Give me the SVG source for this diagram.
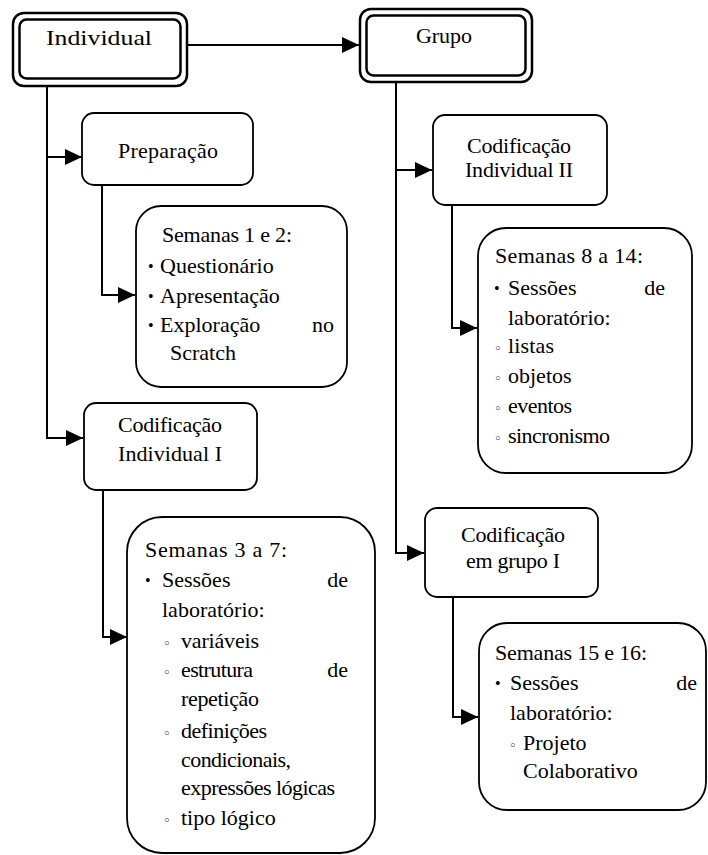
<svg xmlns="http://www.w3.org/2000/svg" width="708" height="855" viewBox="0 0 708 855">
<style>
.t{font-family:"Liberation Serif","Times New Roman",serif;font-size:22px;fill:#000}
.m{text-anchor:middle}
.e{text-anchor:end}
.b{font-family:"Liberation Serif","DejaVu Serif",serif;font-size:16px;fill:#000}
.c{font-family:"DejaVu Sans",sans-serif;font-size:13px;fill:#000}
.box{fill:#fff;stroke:#000;stroke-width:1.8}
.dbl{fill:#fff;stroke:#000;stroke-width:2.5}
.conn{fill:none;stroke:#000;stroke-width:2}
</style>
<defs>
<marker id="ah" markerUnits="userSpaceOnUse" markerWidth="18" markerHeight="18" refX="17" refY="8" orient="auto">
<path d="M0,0 L17,8 L0,16 z" fill="#000"/>
</marker>
</defs>
<rect width="708" height="855" fill="#fff"/>
<g id="connectors">
<path class="conn" d="M187,45 H359" marker-end="url(#ah)"/>
<path class="conn" d="M47,86 V438 H83" marker-end="url(#ah)"/>
<path class="conn" d="M47,157 H82" marker-end="url(#ah)"/>
<path class="conn" d="M102,185 V295 H135" marker-end="url(#ah)"/>
<path class="conn" d="M103,490 V637 H127" marker-end="url(#ah)"/>
<path class="conn" d="M396,82 V553 H424" marker-end="url(#ah)"/>
<path class="conn" d="M396,170 H432" marker-end="url(#ah)"/>
<path class="conn" d="M452,205 V328 H477" marker-end="url(#ah)"/>
<path class="conn" d="M453,597 V717 H478" marker-end="url(#ah)"/>
</g>
<g id="individual">
<rect class="dbl" x="13" y="13" width="174" height="73" rx="11"/>
<rect class="dbl" x="19.5" y="19.5" width="161" height="59" rx="7"/>
<text class="t m" x="99" y="45" textLength="106" lengthAdjust="spacingAndGlyphs">Individual</text>
</g>
<g id="grupo">
<rect class="dbl" x="360" y="9" width="172" height="73" rx="11"/>
<rect class="dbl" x="366.5" y="15.5" width="159" height="60" rx="7"/>
<text class="t m" x="444" y="43">Grupo</text>
</g>
<g id="preparacao">
<rect class="box" x="82" y="113" width="171" height="72" rx="12"/>
<text class="t m" x="168" y="158" textLength="100">Preparação</text>
</g>
<g id="semanas12">
<rect class="box" x="136" y="206" width="211" height="181" rx="25"/>
<text class="t" x="162" y="242" textLength="130">Semanas 1 e 2:</text>
<text class="b" x="148" y="272">•</text>
<text class="t" x="160" y="273">Questionário</text>
<text class="b" x="148" y="302">•</text>
<text class="t" x="160" y="303">Apresentação</text>
<text class="b" x="148" y="331">•</text>
<text class="t" x="160" y="332">Exploração</text>
<text class="t e" x="334" y="332">no</text>
<text class="t" x="170" y="360">Scratch</text>
</g>
<g id="codificacao-individual-1">
<rect class="box" x="84" y="403" width="173" height="87" rx="12"/>
<text class="t m" x="170" y="432" textLength="104">Codificação</text>
<text class="t m" x="170" y="461" textLength="104">Individual I</text>
</g>
<g id="semanas37">
<rect class="box" x="127" y="517" width="248" height="336" rx="35"/>
<text class="t" x="145" y="557" textLength="142">Semanas 3 a 7:</text>
<text class="b" x="145" y="586">•</text>
<text class="t" x="162" y="587">Sessões</text>
<text class="t e" x="348" y="587">de</text>
<text class="t" x="162" y="617">laboratório:</text>
<text class="c" x="163" y="648">◦</text>
<text class="t" x="181" y="648" textLength="78">variáveis</text>
<text class="c" x="163" y="677">◦</text>
<text class="t" x="181" y="677" textLength="72">estrutura</text>
<text class="t e" x="348" y="677">de</text>
<text class="t" x="181" y="706" textLength="78">repetição</text>
<text class="c" x="163" y="738">◦</text>
<text class="t" x="181" y="738" textLength="86">definições</text>
<text class="t" x="181" y="767" textLength="110">condicionais,</text>
<text class="t" x="181" y="795" textLength="154">expressões lógicas</text>
<text class="c" x="163" y="825">◦</text>
<text class="t" x="181" y="825">tipo lógico</text>
</g>
<g id="codificacao-individual-2">
<rect class="box" x="433" y="115" width="174" height="90" rx="12"/>
<text class="t m" x="519" y="153" textLength="104">Codificação</text>
<text class="t m" x="519" y="177" textLength="108">Individual II</text>
</g>
<g id="semanas814">
<rect class="box" x="478" y="228" width="214" height="245" rx="28"/>
<text class="t" x="495" y="263" textLength="148">Semanas 8 a 14:</text>
<text class="b" x="494" y="294">•</text>
<text class="t" x="508" y="295">Sessões</text>
<text class="t e" x="665" y="295">de</text>
<text class="t" x="508" y="325">laboratório:</text>
<text class="c" x="494" y="353">◦</text>
<text class="t" x="508" y="353" textLength="46">listas</text>
<text class="c" x="494" y="383">◦</text>
<text class="t" x="508" y="383">objetos</text>
<text class="c" x="494" y="413">◦</text>
<text class="t" x="508" y="413" textLength="64">eventos</text>
<text class="c" x="494" y="443">◦</text>
<text class="t" x="508" y="443" textLength="102">sincronismo</text>
</g>
<g id="codificacao-grupo-1">
<rect class="box" x="425" y="508" width="173" height="89" rx="12"/>
<text class="t m" x="513" y="542" textLength="104">Codificação</text>
<text class="t m" x="513" y="568" textLength="94">em grupo I</text>
</g>
<g id="semanas1516">
<rect class="box" x="479" y="623" width="227" height="187" rx="28"/>
<text class="t" x="495" y="660" textLength="152">Semanas 15 e 16:</text>
<text class="b" x="495" y="689">•</text>
<text class="t" x="510" y="690">Sessões</text>
<text class="t e" x="697" y="690">de</text>
<text class="t" x="510" y="720">laboratório:</text>
<text class="c" x="509" y="750">◦</text>
<text class="t" x="523" y="750">Projeto</text>
<text class="t" x="523" y="778">Colaborativo</text>
</g>
</svg>
